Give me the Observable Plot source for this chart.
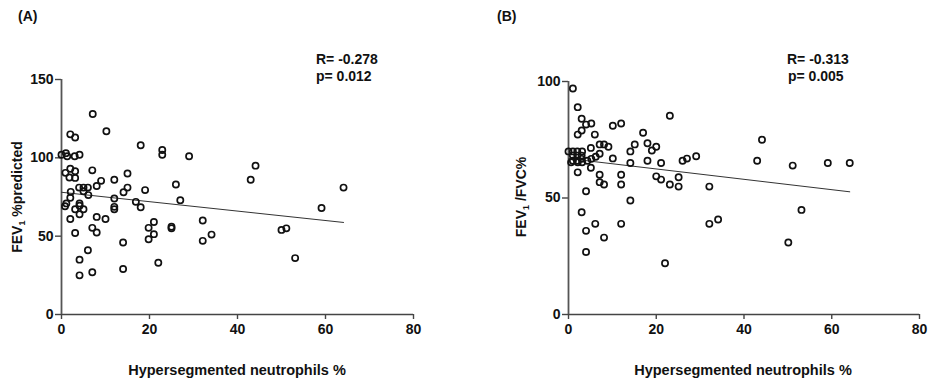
<!DOCTYPE html>
<html>
<head>
<meta charset="utf-8">
<script src="https://cdn.jsdelivr.net/npm/d3@7"></script>
<script src="https://cdn.jsdelivr.net/npm/@observablehq/plot@0.6"></script>
<style>
  body { margin: 0; background: #fff; }
  #wrap { position: relative; width: 930px; height: 384px; font-family: "Liberation Sans", Arial, sans-serif; font-weight: bold; color: #111; }
  .pan { position: absolute; top: 0; }
  .lbl { position: absolute; font-size: 14px; white-space: nowrap; }
  .ylab { position: absolute; font-size: 14px; white-space: nowrap; transform: translate(-50%, -50%) rotate(-90deg); }
  .xlab { position: absolute; font-size: 14.5px; white-space: nowrap; transform: translateX(-50%); }
  sub { font-size: 9px; vertical-align: -3px; }
</style>
</head>
<body>
<div id="wrap"></div>
<script>
// Panel A: FEV1 %predicted vs hypersegmented neutrophils %
const hsnA = [0,1,1.3,3,4.1, 7.1,2,3.1,10.2,18,22.9,22.9,29,
  2,3.1,1.8,3.1,0.9,7,9,8,12,15,15,14.1,
  4,5,6,5,6.1,2.1,26,19,12,16.9,27,
  2,1.1,0.8,4.1,4.1,3.1,5,4.1,12,12,18,
  2,8,10,7,8,3.1,21,19.8,21,19.8,25,25,
  14,6,4.1,22,14,7,4.1,
  32.1,32.1,34.1,43,44.1,50,51.1,53.1,59.1,64.1];
const fev1A = [102,103,101,101,102, 128,115,113,117,108,105,102,101,
  93,91.5,87.4,87.2,90.4,92,85.3,82,86,90,81,78,
  81,81,81,78.7,76.2,78.3,83,79.4,74,71.9,73,
  74.5,70.9,69.1,70.9,69.4,67.2,67.2,64,68.7,67.2,68.5,
  61,62.3,61,55.3,52.3,52,59,55.3,51.3,48,56,55,
  46,41,35,33,29,27,25,
  60,47,51,86,95,54,55,36,68,81];

// Panel B: FEV1/FVC% vs hypersegmented neutrophils %
const hsnB = [1,2.1,3,4,5.2,3,2.1,6,10.1,12,17,23.1,
  7.1,8.1,9.1,5.1,0,1,2,3.1,1,2,3,1,2,4.3,3.1,0.6,2.1,3,5.2,6.2,7.1,10.1,14.1,15.1,18,20,19,18,21.1,14.1,
  5.1,2.1,7.1,7.1,8.1,12,12,20,21.1,23.1,25.1,25.1,26,27,29.1,
  4,14.1,3,6.1,12,4,8.1,4,22,
  32.1,32.1,34.1,43,44.1,51.1,50.1,53.1,59.1,64.1];
const ratioB = [97,89,84,81.5,82,79,77.2,77.2,81,82,78,85.3,
  73,73,72,71.5,70,70,70,70,68.2,68.2,68.2,66,66,66,65.3,65.3,65.3,66.8,66.8,67.7,69,67,70,73,73.5,72,70.4,66,65,65,
  63,61,60,56.8,55.8,60,55.8,59.3,57.9,55.8,58.9,54.9,66,66.9,67.9,
  52.9,48.9,43.9,38.9,38.9,35.9,33,26.8,22,
  54.9,38.9,40.8,66,75,63.9,30.9,44.9,65,65];

const xTicks = [0, 20, 40, 60, 80];
const yTicksA = [0, 50, 100, 150];
const yTicksB = [0, 50, 100];
const stats = [
  {panel: "(A)", r: "R= -0.278", p: "p= 0.012"},
  {panel: "(B)", r: "R= -0.313", p: "p= 0.005"}
];

const dataA = hsnA.map((x, i) => ({x, y: fev1A[i]}));
const dataB = hsnB.map((x, i) => ({x, y: ratioB[i]}));

function panel(data, yDomain, yTicks, m) {
  return Plot.plot({
    width: 465, height: 384,
    marginLeft: m.left, marginRight: m.right, marginTop: m.top, marginBottom: m.bottom,
    style: {fontFamily: '"Liberation Sans", Arial, sans-serif', fontSize: "14px", fontWeight: "bold", color: "#111", background: "transparent"},
    x: {domain: [0, 80], ticks: xTicks, label: null},
    y: {domain: yDomain, ticks: yTicks, label: null},
    marks: [
      Plot.axisX({ticks: xTicks, tickSize: 5, tickPadding: 5, label: null, stroke: "#444", strokeWidth: 1.4}),
      Plot.axisY({ticks: yTicks, tickSize: 6, tickPadding: 2, label: null, stroke: "#444", strokeWidth: 1.4}),
      Plot.ruleY([yDomain[0]], {stroke: "#444", strokeWidth: 1.6}),
      Plot.ruleX([0], {stroke: "#555", strokeWidth: 1.8}),
      Plot.linearRegressionY(data, {x: "x", y: "y", ci: 0, stroke: "#333", strokeWidth: 1}),
      Plot.dot(data, {x: "x", y: "y", r: 3.1, stroke: "#111", strokeWidth: 1.7, fill: "none"})
    ]
  });
}

const wrap = document.getElementById("wrap");
const pA = panel(dataA, [0, 150], yTicksA, {left: 61, right: 52, top: 79, bottom: 70});
const pB = panel(dataB, [0, 100], yTicksB, {left: 103, right: 11, top: 81, bottom: 70});
const dA = document.createElement("div"); dA.className = "pan"; dA.style.left = "0px"; dA.appendChild(pA);
const dB = document.createElement("div"); dB.className = "pan"; dB.style.left = "465px"; dB.appendChild(pB);
wrap.appendChild(dA); wrap.appendChild(dB);

function addDiv(cls, html, left, top) {
  const d = document.createElement("div");
  d.className = cls; d.innerHTML = html;
  d.style.left = left + "px"; d.style.top = top + "px";
  wrap.appendChild(d);
}
addDiv("lbl", stats[0].panel, 18, 8);
addDiv("lbl", stats[1].panel, 497, 8);
addDiv("lbl", stats[0].r, 316, 51);
addDiv("lbl", stats[0].p, 316, 68);
addDiv("lbl", stats[1].r, 787, 51);
addDiv("lbl", stats[1].p, 788, 68);
addDiv("ylab", "FEV<sub>1</sub> %predicted", 18, 197);
addDiv("ylab", "FEV<sub>1</sub> /FVC%", 522, 197);
addDiv("xlab", "Hypersegmented neutrophils %", 237, 362);
addDiv("xlab", "Hypersegmented neutrophils %", 743, 362);
</script>
</body>
</html>
